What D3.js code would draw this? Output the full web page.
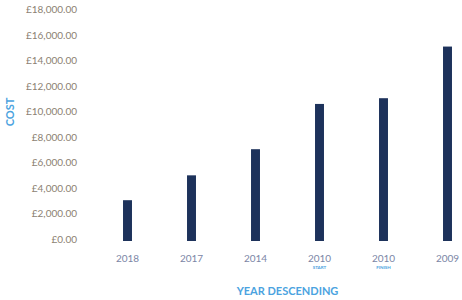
<!DOCTYPE html>
<html>
<head>
<meta charset="utf-8">
<script src="https://cdn.jsdelivr.net/npm/d3@7"></script>
<style>
  body { margin: 0; background: #fff; }
  text { font-family: Lato, "Open Sans", sans-serif; }
  .tick text { fill: #8c7f72; font-size: 10px; }
  .x-axis .tick text { fill: #7b86a6; }
  .axis-label { fill: #4ba3e0; font-weight: bold; font-size: 11px; }
  .tick text.sub-label { fill: #4ba3e0; font-weight: bold; font-size: 4.5px; }
</style>
</head>
<body>
<svg width="462" height="300"></svg>
<script>
const svg = d3.select('svg');
const width = +svg.attr('width');
const height = +svg.attr('height');

// data
const years = ['2018', '2017', '2014', '2010', '2010', '2009'];
const subLabels = ['', '', '', 'START', 'FINISH', ''];
const costs = [3200, 5150, 7200, 10750, 11200, 15250];
const yTicks = [0, 2000, 4000, 6000, 8000, 10000, 12000, 14000, 16000, 18000];

const data = years.map((y, i) => ({ key: i, year: y, sub: subLabels[i], cost: costs[i] }));

const margin = { top: 12, right: 0, bottom: 58, left: 96 };
const innerWidth = width - margin.left - margin.right;
const innerHeight = height - margin.top - margin.bottom;

// 64px per category, first bar centred near x=127.5
const xScale = d3.scaleBand()
  .domain(data.map(d => d.key))
  .range([-0.5, 383.5])
  .paddingInner(0.86)
  .paddingOuter(0.43);

const yScale = d3.scaleLinear()
  .domain([0, 18000])
  .range([241 - margin.top, 241 - margin.top - 229.5]);

const g = svg.append('g')
  .attr('transform', `translate(${margin.left}, ${margin.top})`);

const gbp = d => '£' + d3.format(',.2f')(d);

const yAxisGroup = g.append('g')
  .call(d3.axisLeft(yScale).tickValues(yTicks).tickFormat(gbp).tickSize(0).tickPadding(19));
yAxisGroup.select('.domain').remove();
yAxisGroup.selectAll('.tick text').attr('dy', '0.1em');

const xAxisGroup = g.append('g')
  .attr('class', 'x-axis')
  .attr('transform', `translate(0, ${innerHeight})`)
  .call(d3.axisBottom(xScale).tickFormat(i => years[i]).tickSize(0).tickPadding(13));
xAxisGroup.select('.domain').remove();

// little START / FINISH captions under the 2010 ticks
xAxisGroup.selectAll('.tick').append('text')
  .attr('class', 'sub-label')
  .attr('y', 27)
  .attr('text-anchor', 'middle')
  .text(i => subLabels[i]);

g.selectAll('rect').data(data)
  .enter().append('rect')
    .attr('x', d => xScale(d.key))
    .attr('y', d => yScale(d.cost))
    .attr('width', xScale.bandwidth())
    .attr('height', d => yScale(0) - yScale(d.cost))
    .attr('fill', '#1d325b');

svg.append('text')
  .attr('class', 'axis-label')
  .attr('transform', 'translate(14, 112) rotate(-90)')
  .attr('text-anchor', 'middle')
  .text('COST');

svg.append('text')
  .attr('class', 'axis-label')
  .attr('x', 287.5)
  .attr('y', 295)
  .attr('text-anchor', 'middle')
  .text('YEAR DESCENDING');
</script>
</body>
</html>
